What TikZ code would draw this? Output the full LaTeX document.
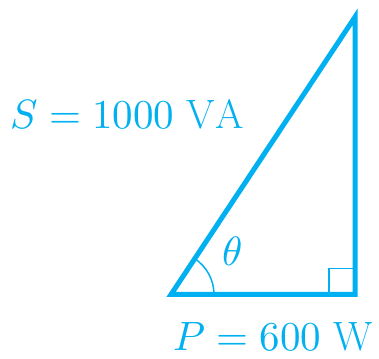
\documentclass[tikz,border=0pt]{standalone}
\usepackage{amsmath,amssymb}
\usepackage{unicode-math}
\setmathfont{Latin Modern Math}
\usetikzlibrary{calc}
\definecolor{PowerCyan}{HTML}{00B0F0}

\begin{document}
\begin{tikzpicture}[x=1pt, y=1pt, line join=miter,
  label text/.style={anchor=base west, inner sep=0pt, text=PowerCyan, font=\fontsize{41}{44}\selectfont}]
\useasboundingbox (0,0) rectangle (379,358);

% Corners of the power triangle
\coordinate (A) at (171,63.5);
\coordinate (B) at (355,63.5);
\coordinate (C) at (355,341);

% Triangle sides
\draw[PowerCyan, line width=5pt] (A) -- (B) -- (C) -- cycle;

% Right angle mark and angle arc
\draw[PowerCyan, line width=1.5pt] ($(B)+(-26,0)$) |- ($(B)+(0,26)$);
\draw[PowerCyan, line width=1.5pt] ($(A)+(43,0)$) arc[start angle=0, end angle=56.4, radius=43];

% Labels
\node[label text] (theta) at (222,92) {$\theta$};
\node[label text] (apparent) at (10,229) {$S = 1000\ \mathrm{VA}$};
\node[label text] (active) at (173,8) {$P = 600\ \mathrm{W}$};
\end{tikzpicture}
\end{document}
